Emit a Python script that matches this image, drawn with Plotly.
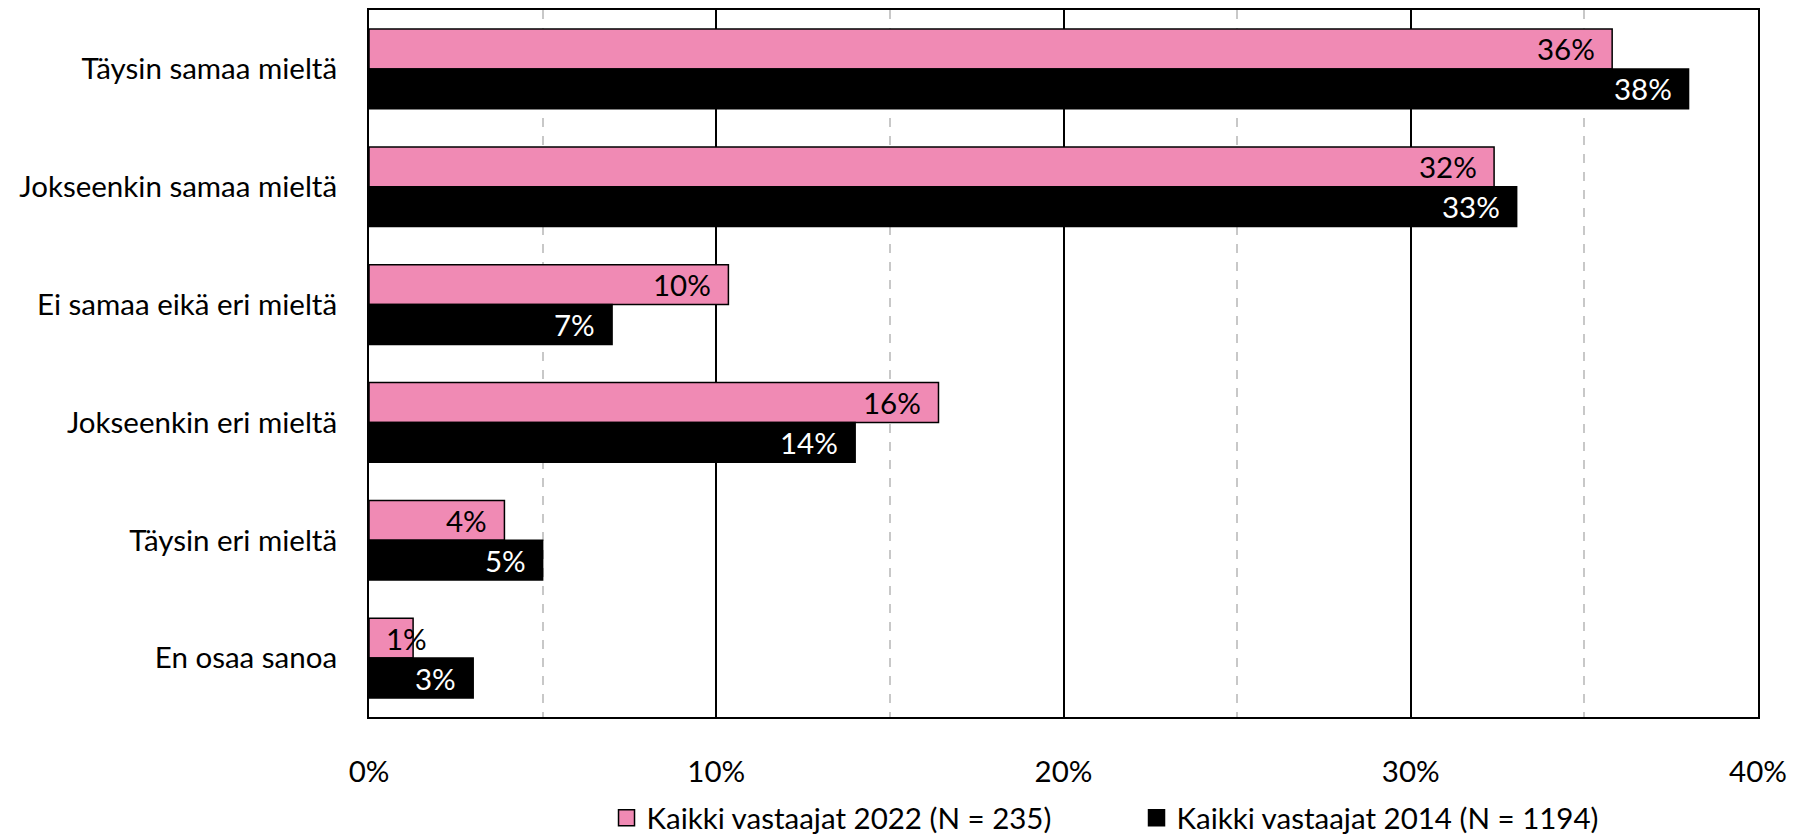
import plotly.graph_objects as go

categories = ["Täysin samaa mieltä", "Jokseenkin samaa mieltä", "Ei samaa eikä eri mieltä",
              "Jokseenkin eri mieltä", "Täysin eri mieltä", "En osaa sanoa"]
series_names = ["Kaikki vastaajat 2022 (N = 235)", "Kaikki vastaajat 2014 (N = 1194)"]
values_2022 = [35.8, 32.4, 10.35, 16.4, 3.9, 1.27]
values_2014 = [38.0, 33.05, 7.0, 14.0, 5.0, 3.0]
labels_2022 = ["36%", "32%", "10%", "16%", "4%", "1%"]
labels_2014 = ["38%", "33%", "7%", "14%", "5%", "3%"]
tick_vals = [0, 10, 20, 30, 40]
tick_text = ["0%", "10%", "20%", "30%", "40%"]

PINK = "#F08AB4"
FONT = "Lato"
FS = 29.5

fig = go.Figure()
fig.add_trace(go.Bar(y=categories, x=values_2022, orientation="h", name=series_names[0],
                     marker=dict(color=PINK, line=dict(color="black", width=1.5)),
                     showlegend=False))
fig.add_trace(go.Bar(y=categories, x=values_2014, orientation="h", name=series_names[1],
                     marker=dict(color="black", line=dict(color="black", width=1.5)),
                     showlegend=False))
# legend entries
fig.add_trace(go.Scatter(x=[None], y=[None], mode="markers", name=series_names[0],
                         marker=dict(symbol="square", size=16, color=PINK,
                                     line=dict(color="black", width=1.5))))
fig.add_trace(go.Scatter(x=[None], y=[None], mode="markers", name=series_names[1],
                         marker=dict(symbol="square", size=16, color="black",
                                     line=dict(color="black", width=1.5))))

annotations = []
for vals, labs, color, ysh in [(values_2022, labels_2022, "black", 20),
                               (values_2014, labels_2014, "white", -20)]:
    for cat, v, lab in zip(categories, vals, labs):
        if v < 2:
            annotations.append(dict(x=0, y=cat, text=lab, showarrow=False, xanchor="left",
                                    xshift=15, yshift=ysh, font=dict(family=FONT, size=FS, color=color)))
        else:
            annotations.append(dict(x=v, y=cat, text=lab, showarrow=False, xanchor="right",
                                    xshift=-15, yshift=ysh, font=dict(family=FONT, size=FS, color=color)))

fig.update_layout(
    width=1784, height=830,
    margin=dict(l=361, r=34, t=2, b=121, autoexpand=False),
    paper_bgcolor="white", plot_bgcolor="white",
    barmode="group", bargap=0.324, bargroupgap=0,
    font=dict(family=FONT, size=FS, color="black"),
    annotations=annotations,
    legend=dict(orientation="h", x=0.171, xanchor="left", y=-0.143, yanchor="middle",
                font=dict(family=FONT, size=FS, color="black"),
                entrywidth=485, entrywidthmode="pixels", itemsizing="trace"),
    xaxis=dict(range=[0, 40], tickvals=tick_vals, ticktext=tick_text,
               showgrid=True, gridcolor="black", gridwidth=1.5,
               minor=dict(dtick=5, showgrid=True, gridcolor="#C8C8C8", gridwidth=1.5, griddash="dash"),
               showline=True, linecolor="black", linewidth=2, mirror=True,
               zeroline=False, ticks="", ticklabelstandoff=28, automargin=False,
               tickfont=dict(family=FONT, size=FS, color="black")),
    yaxis=dict(autorange="reversed", showline=True, linecolor="black", linewidth=2, mirror=True,
               showgrid=False, ticks="", ticklabelstandoff=24, automargin=False,
               tickfont=dict(family=FONT, size=FS, color="black")),
)

fig.write_html("out.html")
